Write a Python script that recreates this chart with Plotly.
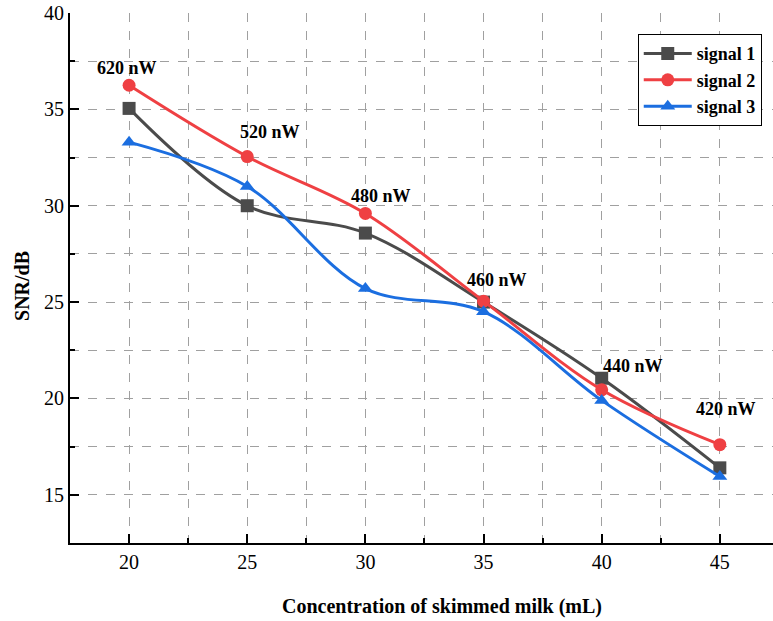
import plotly.graph_objects as go

concentration = [20, 25, 30, 35, 40, 45]
signal_1 = [35.05, 30.0, 28.58, 25.0, 21.05, 16.4]
signal_2 = [36.25, 32.55, 29.6, 25.05, 20.45, 17.6]
signal_3 = [33.3, 31.0, 25.7, 24.5, 19.9, 15.95]
power_labels = ["620 nW", "520 nW", "480 nW", "460 nW", "440 nW", "420 nW"]

series = [
    ("signal 1", signal_1, "#4b4b4b", "square"),
    ("signal 2", signal_2, "#ef4043", "circle"),
    ("signal 3", signal_3, "#1b6ee0", "triangle-up"),
]

font_family = "Liberation Serif"

fig = go.Figure()
for name, vals, color, sym in series:
    fig.add_trace(go.Scatter(
        x=concentration, y=vals, name=name, mode="lines+markers",
        line=dict(color=color, width=3, shape="spline", smoothing=1.0),
        marker=dict(symbol=sym, size=13, color=color),
    ))

# label shifts (pixels) relative to top point at each concentration
shifts = [(-2, 17), (23, 25), (16, 17), (13, 21), (31, 12), (6, 36)]
for i, lab in enumerate(power_labels):
    top = max(signal_1[i], signal_2[i], signal_3[i])
    fig.add_annotation(
        x=concentration[i], y=top, text="<b>%s</b>" % lab, showarrow=False,
        xshift=shifts[i][0], yshift=shifts[i][1],
        font=dict(family=font_family, size=18, color="black"),
    )

# axis titles
fig.add_annotation(
    xref="paper", yref="paper", x=0.529, y=0, yshift=-63, yanchor="middle",
    text="<b>Concentration of skimmed milk (mL)</b>", showarrow=False,
    font=dict(family=font_family, size=20, color="black"),
)
fig.add_annotation(
    xref="paper", yref="paper", x=0, xshift=-48, y=0.485, xanchor="center",
    text="<b>SNR/dB</b>", showarrow=False, textangle=-90,
    font=dict(family=font_family, size=20, color="black"),
)

axis_common = dict(
    showgrid=True, gridcolor="#a0a0a0", griddash="dash", gridwidth=1,
    ticks="inside", ticklen=9, tickwidth=2, tickcolor="black",
    showline=True, linecolor="black", linewidth=2, mirror=False,
    zeroline=False,
    tickfont=dict(family=font_family, size=20, color="black"),
    minor=dict(dtick=2.5, showgrid=True, gridcolor="#a0a0a0", griddash="dash",
               gridwidth=1, ticks="inside", ticklen=5, tickwidth=2, tickcolor="black"),
)

fig.update_xaxes(range=[17.5, 47.25], dtick=5, tick0=20, **axis_common)
fig.update_yaxes(range=[12.5, 40], dtick=5, tick0=15, **axis_common)

fig.update_layout(
    width=773, height=621,
    margin=dict(l=70, r=0, t=13, b=78),
    plot_bgcolor="white", paper_bgcolor="white",
    legend=dict(
        x=0.984, y=0.96, xanchor="right", yanchor="top",
        bordercolor="black", borderwidth=1, bgcolor="white",
        font=dict(family=font_family, size=18, color="black", weight="bold"),
        itemwidth=48, tracegroupgap=0,
    ),
    showlegend=True,
)

fig.write_html("out.html")
